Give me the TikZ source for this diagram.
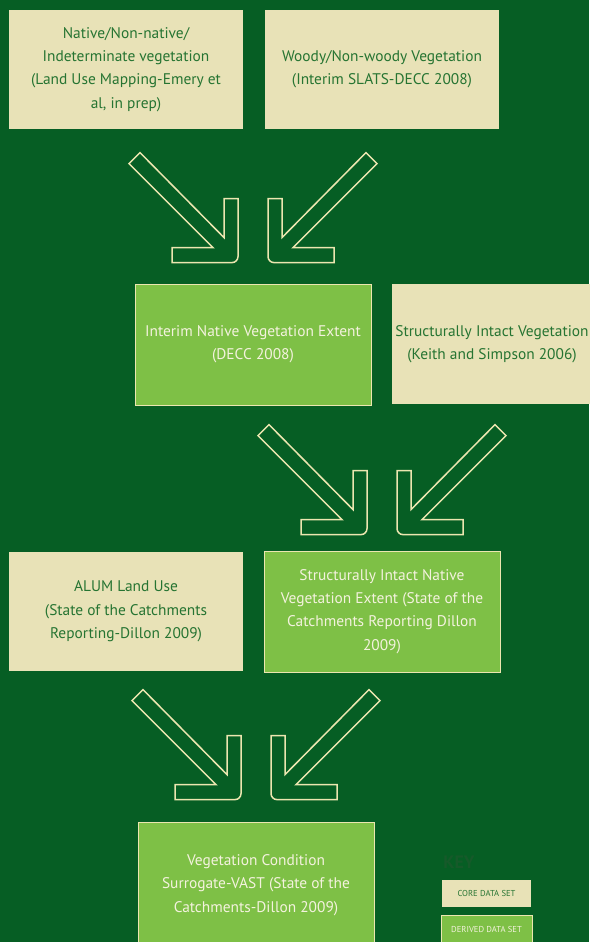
\documentclass[tikz,border=0pt]{standalone}
\usepackage{fontspec}
\setmainfont{PT Sans}
\definecolor{backdrop}{RGB}{6,94,36}
\definecolor{coredata}{RGB}{232,226,183}
\definecolor{coretext}{RGB}{38,116,50}
\definecolor{deriveddata}{RGB}{126,192,70}
\definecolor{derivedtext}{RGB}{244,242,222}
\definecolor{arrowline}{RGB}{236,230,176}
\definecolor{keytext}{RGB}{22,90,42}
\tikzstyle{every node} = [align=center, inner sep=0pt, font=\fontsize{15.4}{23.3}\selectfont]
\tikzstyle{core} = [fill=coredata, text=coretext]
\tikzstyle{derived} = [fill=deriveddata, draw=arrowline, line width=0.8pt, text=derivedtext]
\tikzstyle{hollow} = [draw=arrowline, line width=1.5pt]
\tikzstyle{keybox} = [minimum height=27pt, font=\fontsize{8.6}{10}\selectfont]
\tikzset{pics/inarrow/.style={code={
    \draw[hollow] (-14,-64) -- (0,-64) -- (0,-6) .. controls (0,-2.7) and (-2.7,0) .. (-6,0)
        -- (-66,0) -- (-66,-15) -- (-25,-15) -- (-109,-99) -- (-98,-110) -- (-14,-25) -- cycle;
}}}

\begin{document}
\begin{tikzpicture}[x=1pt, y=-1pt]
            \fill[backdrop] (0,0) rectangle (589,942);
            \useasboundingbox (0,0) rectangle (589,942);

            \node[core, minimum width=234pt, minimum height=119pt] (native) at (126,69.5)
                {Native/Non-native/\\Indeterminate vegetation\\(Land Use Mapping-Emery et\\al, in prep)};
            \node[core, minimum width=234pt, minimum height=119pt] (woody) at (382,69.5)
                {Woody/Non-woody Vegetation\\(Interim SLATS-DECC 2008)};

            \node[derived, minimum width=236pt, minimum height=121pt] (interim) at (253,344.5)
                {Interim Native Vegetation Extent\\(DECC 2008)};
            \node[core, minimum width=200pt, minimum height=120pt] (intact) at (492,344)
                {Structurally Intact Vegetation\\(Keith and Simpson 2006)};

            \node[core, minimum width=234pt, minimum height=119pt] (alum) at (126,611.5)
                {ALUM Land Use\\(State of the Catchments\\Reporting-Dillon 2009)};
            \node[derived, minimum width=236pt, minimum height=121pt] (intactnative) at (382,611.5)
                {Structurally Intact Native\\Vegetation Extent (State of the\\Catchments Reporting Dillon\\2009)};

            \node[derived, minimum width=236pt, minimum height=126pt] (vast) at (256,885)
                {Vegetation Condition\\Surrogate-VAST (State of the\\Catchments-Dillon 2009)};

            \pic at ([xshift=-15pt, yshift=21pt]interim.north) {inarrow};
            \pic[xscale=-1] at ([xshift=15pt, yshift=21pt]interim.north) {inarrow};
            \pic at ([xshift=-15pt, yshift=16pt]intactnative.north) {inarrow};
            \pic[xscale=-1] at ([xshift=15pt, yshift=16pt]intactnative.north) {inarrow};
            \pic at ([xshift=-15pt, yshift=22pt]vast.north) {inarrow};
            \pic[xscale=-1] at ([xshift=15pt, yshift=22pt]vast.north) {inarrow};

            \node[text=keytext, font=\fontsize{18}{20}\bfseries] (key) at (459,862) {KEY};
            \node[core, keybox, minimum width=89pt] (corekey) at (486.5,893.5) {CORE DATA SET};
            \node[derived, keybox, minimum width=91pt] (derivedkey) at (486.5,929) {DERIVED DATA SET};
        \end{tikzpicture}
\end{document}
